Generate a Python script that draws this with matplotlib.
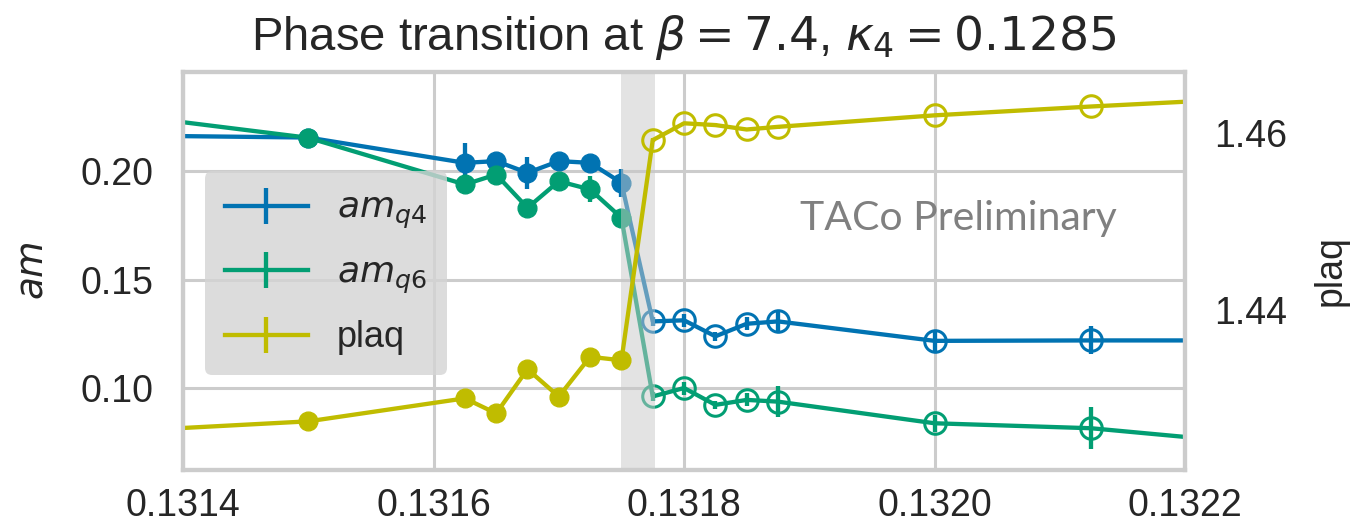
import matplotlib
matplotlib.use("Agg")
import matplotlib.pyplot as plt
from matplotlib.ticker import FormatStrFormatter

plt.rcParams["font.family"] = ["Liberation Sans", "DejaVu Sans"]
plt.rcParams["mathtext.fontset"] = "dejavusans"

# kappa values below / above the transition (first and last entries lie just outside the view)
kappa_lo = [0.1313, 0.1315, 0.131625, 0.13165, 0.131675, 0.1317, 0.131725, 0.13175]
kappa_hi = [0.131775, 0.1318, 0.131825, 0.13185, 0.131875, 0.1320, 0.132125, 0.13225]

mq4_lo = [0.2170, 0.2157, 0.2040, 0.2048, 0.1994, 0.2048, 0.2040, 0.1948]
mq4_lo_err = [0.001, 0.001, 0.0093, 0.002, 0.0074, 0.002, 0.002, 0.0065]
mq4_hi = [0.1307, 0.1312, 0.1238, 0.1296, 0.1307, 0.1217, 0.1219, 0.1219]
mq4_hi_err = [0.002, 0.003, 0.002, 0.003, 0.0046, 0.005, 0.0065, 0.002]

mq6_lo = [0.2300, 0.2156, 0.1940, 0.1986, 0.1832, 0.1955, 0.1917, 0.1786]
mq6_lo_err = [0.001, 0.001, 0.002, 0.002, 0.002, 0.004, 0.006, 0.002]
mq6_hi = [0.0960, 0.0999, 0.0921, 0.0944, 0.0936, 0.0836, 0.0813, 0.0746]
mq6_hi_err = [0.002, 0.003, 0.002, 0.003, 0.007, 0.004, 0.0097, 0.002]

plaq_lo = [1.4259, 1.4274, 1.4300, 1.4283, 1.4333, 1.4302, 1.4347, 1.4343]
plaq_hi = [1.4592, 1.4611, 1.4609, 1.4604, 1.4607, 1.4620, 1.4630, 1.4639]
plaq_err = [0.0002] * 8

transition = (0.13175, 0.131777)

BLUE = "#0173b2"
GREEN = "#029e73"
OLIVE = "#c0bc00"
GRID = "#cccccc"

fig = plt.figure(figsize=(13.62, 5.31), dpi=100)
ax = fig.add_axes([0.1344, 0.1149, 0.7357, 0.7495])
ax2 = ax.twinx()

lw = 3.1
ms_fill = 13.5
ms_open = 15.5


def draw(axis, xs_lo, ys_lo, e_lo, xs_hi, ys_hi, e_hi, color, label):
    xs = xs_lo + xs_hi
    ys = ys_lo + ys_hi
    es = e_lo + e_hi
    axis.errorbar(xs, ys, yerr=es, fmt="-", color=color, lw=lw,
                  elinewidth=lw, capsize=0, label=label, zorder=2)
    axis.plot(xs_lo, ys_lo, "o", color=color, ms=ms_fill, zorder=3)
    axis.plot(xs_hi, ys_hi, "o", color=color, mfc="none", mew=2.2,
              ms=ms_open, zorder=3)


draw(ax, kappa_lo, mq4_lo, mq4_lo_err, kappa_hi, mq4_hi, mq4_hi_err, BLUE, r"$am_{q4}$")
draw(ax, kappa_lo, mq6_lo, mq6_lo_err, kappa_hi, mq6_hi, mq6_hi_err, GREEN, r"$am_{q6}$")
draw(ax2, kappa_lo, plaq_lo, plaq_err, kappa_hi, plaq_hi, plaq_err, OLIVE, "plaq")

ax.axvspan(*transition, color="#c8c8c8", alpha=0.5, lw=0, zorder=5)

ax.set_xlim(0.1314, 0.1322)
ax.set_ylim(0.062, 0.246)
ax2.set_ylim(1.4219, 1.4669)

ax.set_xticks([0.1314, 0.1316, 0.1318, 0.1320, 0.1322])
ax.xaxis.set_major_formatter(FormatStrFormatter("%.4f"))
ax.set_yticks([0.10, 0.15, 0.20])
ax.yaxis.set_major_formatter(FormatStrFormatter("%.2f"))
ax2.set_yticks([1.44, 1.46])
ax2.yaxis.set_major_formatter(FormatStrFormatter("%.2f"))

ax.grid(True, color=GRID, lw=2.2)
ax.set_axisbelow(True)
ax2.grid(False)
for a in (ax, ax2):
    for s in a.spines.values():
        s.set_color(GRID)
        s.set_linewidth(3)
    a.tick_params(length=0, labelsize=27, labelcolor="#262626", pad=21)
ax.tick_params(axis="x", pad=13)

ax.set_ylabel(r"$am$", fontsize=27, color="#262626", labelpad=22)
ax2.set_ylabel("plaq", fontsize=27, color="#262626", labelpad=18)
ax.set_title(r"Phase transition at $\beta = 7.4$, $\kappa_4 = 0.1285$",
             fontsize=34, color="#262626", pad=16)

h1, l1 = ax.get_legend_handles_labels()
h2, l2 = ax2.get_legend_handles_labels()
leg = ax.legend(h1 + h2, l1 + l2, loc="upper left", bbox_to_anchor=(0.022, 0.75),
                borderaxespad=0, fontsize=26, frameon=True, facecolor="#d4d4d4",
                edgecolor="none", framealpha=0.8, handlelength=2.3,
                labelspacing=0.68, borderpad=0.55)
for t in leg.get_texts():
    t.set_color("#262626")

ax2.text(0.616, 0.603, "TACo Preliminary", transform=ax2.transAxes,
         fontsize=29.5, color="#808080", family="Lato")

fig.savefig("out.png", dpi=100)
